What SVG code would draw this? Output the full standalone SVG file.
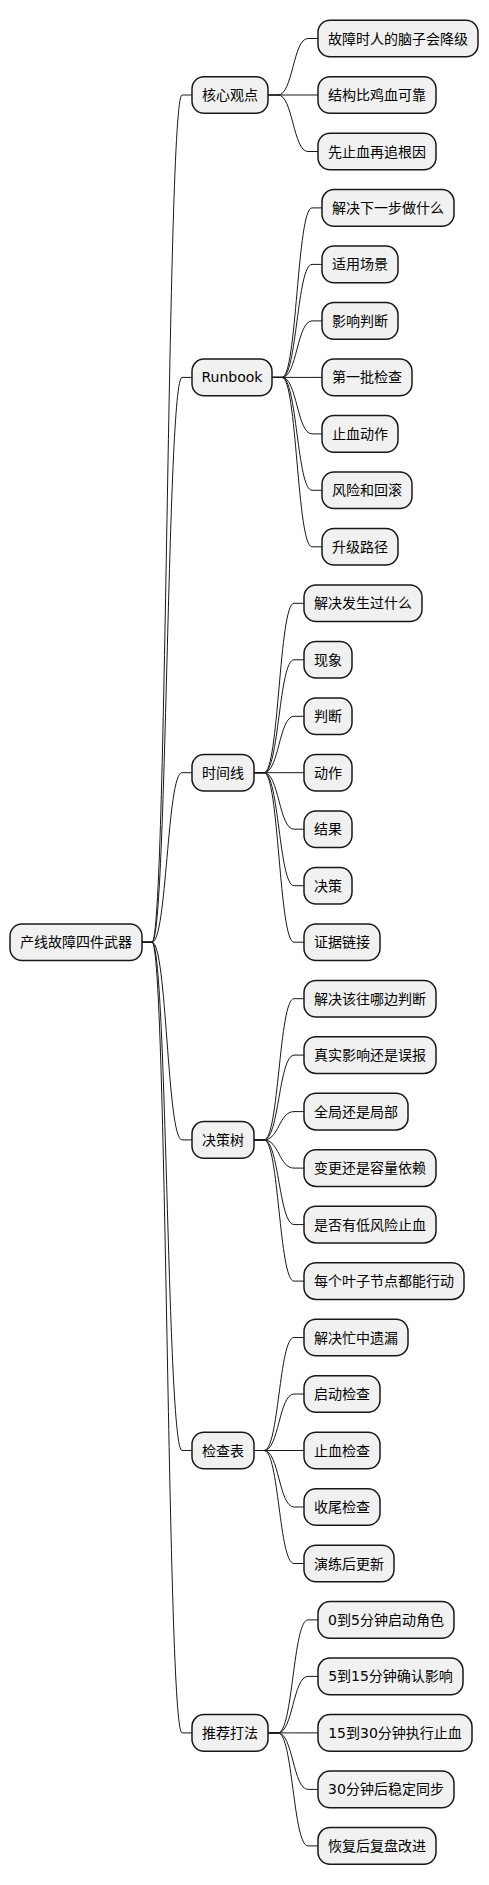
<svg xmlns="http://www.w3.org/2000/svg" width="489" height="1885" viewBox="0 0 489 1885">
<style>
.n rect{fill:#F1F1F1;stroke:#181818;stroke-width:1.5}
.n text{font-family:"DejaVu Sans","Noto Sans CJK SC",sans-serif;font-size:14px;fill:#000;text-anchor:middle}
#edges path{fill:none;stroke:#181818;stroke-width:1}
</style>
<rect width="489" height="1885" fill="#FFFFFF"/>
<g id="edges">
<path d="M142,942.2 H152 C167,942.2 167,95 182,95 H192"/>
<path d="M142,942.2 H152 C167,942.2 167,377.4 182,377.4 H192"/>
<path d="M142,942.2 H152 C167,942.2 167,772.7 182,772.7 H192"/>
<path d="M142,942.2 H152 C167,942.2 167,1139.9 182,1139.9 H192"/>
<path d="M142,942.2 H152 C167,942.2 167,1450.5 182,1450.5 H192"/>
<path d="M142,942.2 H152 C167,942.2 167,1732.9 182,1732.9 H192"/>
<path d="M268,95 H278 C293,95 293,38.5 308,38.5 H318"/>
<path d="M268,95 H278 C293,95 293,95 308,95 H318"/>
<path d="M268,95 H278 C293,95 293,151.5 308,151.5 H318"/>
<path d="M272,377.4 H282 C297,377.4 297,207.9 312,207.9 H322"/>
<path d="M272,377.4 H282 C297,377.4 297,264.4 312,264.4 H322"/>
<path d="M272,377.4 H282 C297,377.4 297,320.9 312,320.9 H322"/>
<path d="M272,377.4 H282 C297,377.4 297,377.4 312,377.4 H322"/>
<path d="M272,377.4 H282 C297,377.4 297,433.9 312,433.9 H322"/>
<path d="M272,377.4 H282 C297,377.4 297,490.3 312,490.3 H322"/>
<path d="M272,377.4 H282 C297,377.4 297,546.8 312,546.8 H322"/>
<path d="M254,772.7 H264 C279,772.7 279,603.3 294,603.3 H304"/>
<path d="M254,772.7 H264 C279,772.7 279,659.8 294,659.8 H304"/>
<path d="M254,772.7 H264 C279,772.7 279,716.3 294,716.3 H304"/>
<path d="M254,772.7 H264 C279,772.7 279,772.7 294,772.7 H304"/>
<path d="M254,772.7 H264 C279,772.7 279,829.2 294,829.2 H304"/>
<path d="M254,772.7 H264 C279,772.7 279,885.7 294,885.7 H304"/>
<path d="M254,772.7 H264 C279,772.7 279,942.2 294,942.2 H304"/>
<path d="M254,1139.9 H264 C279,1139.9 279,998.7 294,998.7 H304"/>
<path d="M254,1139.9 H264 C279,1139.9 279,1055.1 294,1055.1 H304"/>
<path d="M254,1139.9 H264 C279,1139.9 279,1111.6 294,1111.6 H304"/>
<path d="M254,1139.9 H264 C279,1139.9 279,1168.1 294,1168.1 H304"/>
<path d="M254,1139.9 H264 C279,1139.9 279,1224.6 294,1224.6 H304"/>
<path d="M254,1139.9 H264 C279,1139.9 279,1281.1 294,1281.1 H304"/>
<path d="M254,1450.5 H264 C279,1450.5 279,1337.5 294,1337.5 H304"/>
<path d="M254,1450.5 H264 C279,1450.5 279,1394 294,1394 H304"/>
<path d="M254,1450.5 H264 C279,1450.5 279,1450.5 294,1450.5 H304"/>
<path d="M254,1450.5 H264 C279,1450.5 279,1507 294,1507 H304"/>
<path d="M254,1450.5 H264 C279,1450.5 279,1563.5 294,1563.5 H304"/>
<path d="M268,1732.9 H278 C293,1732.9 293,1619.9 308,1619.9 H318"/>
<path d="M268,1732.9 H278 C293,1732.9 293,1676.4 308,1676.4 H318"/>
<path d="M268,1732.9 H278 C293,1732.9 293,1732.9 308,1732.9 H318"/>
<path d="M268,1732.9 H278 C293,1732.9 293,1789.4 308,1789.4 H318"/>
<path d="M268,1732.9 H278 C293,1732.9 293,1845.9 308,1845.9 H318"/>
</g>
<g id="root" class="n"><rect x="10" y="923.9" width="132" height="36.6" rx="12"/><text x="76" y="947.2">产线故障四件武器</text></g>
<g id="p1" class="n"><rect x="192" y="76.7" width="76" height="36.6" rx="12"/><text x="230" y="100">核心观点</text></g>
<g id="p2" class="n"><rect x="192" y="359.1" width="80" height="36.6" rx="12"/><text x="232" y="382.4">Runbook</text></g>
<g id="p3" class="n"><rect x="192" y="754.4" width="62" height="36.6" rx="12"/><text x="223" y="777.7">时间线</text></g>
<g id="p4" class="n"><rect x="192" y="1121.6" width="62" height="36.6" rx="12"/><text x="223" y="1144.9">决策树</text></g>
<g id="p5" class="n"><rect x="192" y="1432.2" width="62" height="36.6" rx="12"/><text x="223" y="1455.5">检查表</text></g>
<g id="p6" class="n"><rect x="192" y="1714.6" width="76" height="36.6" rx="12"/><text x="230" y="1737.9">推荐打法</text></g>
<g id="l0" class="n"><rect x="318" y="20.2" width="160" height="36.6" rx="12"/><text x="398" y="43.5">故障时人的脑子会降级</text></g>
<g id="l1" class="n"><rect x="318" y="76.7" width="118" height="36.6" rx="12"/><text x="377" y="100">结构比鸡血可靠</text></g>
<g id="l2" class="n"><rect x="318" y="133.2" width="118" height="36.6" rx="12"/><text x="377" y="156.5">先止血再追根因</text></g>
<g id="l3" class="n"><rect x="322" y="189.6" width="132" height="36.6" rx="12"/><text x="388" y="212.9">解决下一步做什么</text></g>
<g id="l4" class="n"><rect x="322" y="246.1" width="76" height="36.6" rx="12"/><text x="360" y="269.4">适用场景</text></g>
<g id="l5" class="n"><rect x="322" y="302.6" width="76" height="36.6" rx="12"/><text x="360" y="325.9">影响判断</text></g>
<g id="l6" class="n"><rect x="322" y="359.1" width="90" height="36.6" rx="12"/><text x="367" y="382.4">第一批检查</text></g>
<g id="l7" class="n"><rect x="322" y="415.6" width="76" height="36.6" rx="12"/><text x="360" y="438.9">止血动作</text></g>
<g id="l8" class="n"><rect x="322" y="472" width="90" height="36.6" rx="12"/><text x="367" y="495.3">风险和回滚</text></g>
<g id="l9" class="n"><rect x="322" y="528.5" width="76" height="36.6" rx="12"/><text x="360" y="551.8">升级路径</text></g>
<g id="l10" class="n"><rect x="304" y="585" width="118" height="36.6" rx="12"/><text x="363" y="608.3">解决发生过什么</text></g>
<g id="l11" class="n"><rect x="304" y="641.5" width="48" height="36.6" rx="12"/><text x="328" y="664.8">现象</text></g>
<g id="l12" class="n"><rect x="304" y="698" width="48" height="36.6" rx="12"/><text x="328" y="721.3">判断</text></g>
<g id="l13" class="n"><rect x="304" y="754.4" width="48" height="36.6" rx="12"/><text x="328" y="777.7">动作</text></g>
<g id="l14" class="n"><rect x="304" y="810.9" width="48" height="36.6" rx="12"/><text x="328" y="834.2">结果</text></g>
<g id="l15" class="n"><rect x="304" y="867.4" width="48" height="36.6" rx="12"/><text x="328" y="890.7">决策</text></g>
<g id="l16" class="n"><rect x="304" y="923.9" width="76" height="36.6" rx="12"/><text x="342" y="947.2">证据链接</text></g>
<g id="l17" class="n"><rect x="304" y="980.4" width="132" height="36.6" rx="12"/><text x="370" y="1003.7">解决该往哪边判断</text></g>
<g id="l18" class="n"><rect x="304" y="1036.8" width="132" height="36.6" rx="12"/><text x="370" y="1060.1">真实影响还是误报</text></g>
<g id="l19" class="n"><rect x="304" y="1093.3" width="104" height="36.6" rx="12"/><text x="356" y="1116.6">全局还是局部</text></g>
<g id="l20" class="n"><rect x="304" y="1149.8" width="132" height="36.6" rx="12"/><text x="370" y="1173.1">变更还是容量依赖</text></g>
<g id="l21" class="n"><rect x="304" y="1206.3" width="132" height="36.6" rx="12"/><text x="370" y="1229.6">是否有低风险止血</text></g>
<g id="l22" class="n"><rect x="304" y="1262.8" width="160" height="36.6" rx="12"/><text x="384" y="1286.1">每个叶子节点都能行动</text></g>
<g id="l23" class="n"><rect x="304" y="1319.2" width="104" height="36.6" rx="12"/><text x="356" y="1342.5">解决忙中遗漏</text></g>
<g id="l24" class="n"><rect x="304" y="1375.7" width="76" height="36.6" rx="12"/><text x="342" y="1399">启动检查</text></g>
<g id="l25" class="n"><rect x="304" y="1432.2" width="76" height="36.6" rx="12"/><text x="342" y="1455.5">止血检查</text></g>
<g id="l26" class="n"><rect x="304" y="1488.7" width="76" height="36.6" rx="12"/><text x="342" y="1512">收尾检查</text></g>
<g id="l27" class="n"><rect x="304" y="1545.2" width="90" height="36.6" rx="12"/><text x="349" y="1568.5">演练后更新</text></g>
<g id="l28" class="n"><rect x="318" y="1601.6" width="136" height="36.6" rx="12"/><text x="386" y="1624.9">0到5分钟启动角色</text></g>
<g id="l29" class="n"><rect x="318" y="1658.1" width="145" height="36.6" rx="12"/><text x="390.5" y="1681.4">5到15分钟确认影响</text></g>
<g id="l30" class="n"><rect x="318" y="1714.6" width="154" height="36.6" rx="12"/><text x="395" y="1737.9">15到30分钟执行止血</text></g>
<g id="l31" class="n"><rect x="318" y="1771.1" width="136" height="36.6" rx="12"/><text x="386" y="1794.4">30分钟后稳定同步</text></g>
<g id="l32" class="n"><rect x="318" y="1827.6" width="118" height="36.6" rx="12"/><text x="377" y="1850.9">恢复后复盘改进</text></g>
</svg>
